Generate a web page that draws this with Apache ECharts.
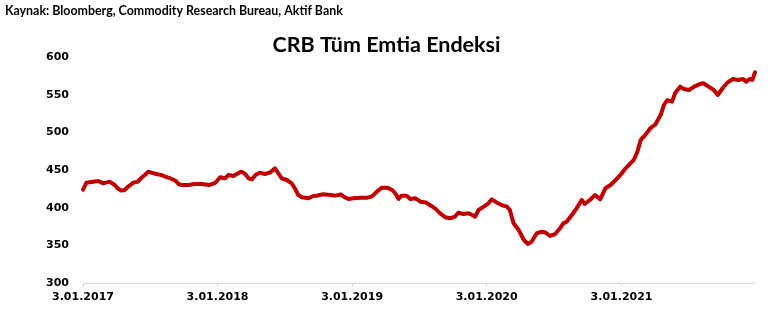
<!DOCTYPE html>
<html>
<head>
<meta charset="utf-8">
<title>CRB Tüm Emtia Endeksi</title>
<script src="https://cdn.jsdelivr.net/npm/echarts@6/dist/echarts.min.js"></script>
<style>
  html, body { margin: 0; padding: 0; background: #ffffff; }
  #chart { width: 773px; height: 330px; }
</style>
</head>
<body>
<div id="chart"></div>
<script>
// CRB all-commodity index, observation dates and index levels
const dates = [
  '2017-01-03','2017-01-12','2017-02-13','2017-02-27','2017-03-16','2017-03-30','2017-04-07','2017-04-17',
  '2017-04-26','2017-05-05','2017-05-19','2017-06-01','2017-06-09','2017-06-20','2017-06-29','2017-07-07',
  '2017-07-21','2017-08-04','2017-08-14','2017-08-28','2017-09-11','2017-09-19','2017-09-28','2017-10-16',
  '2017-11-03','2017-11-22','2017-12-11','2017-12-28',
  '2018-01-10','2018-01-24','2018-02-01','2018-02-15','2018-02-28','2018-03-09','2018-03-19','2018-03-28',
  '2018-04-06','2018-04-16','2018-04-27','2018-05-11','2018-05-25','2018-06-08','2018-06-18','2018-06-26',
  '2018-07-10','2018-07-23','2018-08-01','2018-08-10','2018-08-20','2018-09-06','2018-09-20','2018-09-28',
  '2018-10-17','2018-11-05','2018-11-19','2018-12-03','2018-12-11','2018-12-24',
  '2019-01-07','2019-01-25','2019-02-12','2019-02-25','2019-03-11','2019-03-25','2019-04-08','2019-04-22',
  '2019-04-30','2019-05-09','2019-05-17','2019-05-31','2019-06-10','2019-06-24','2019-07-08','2019-07-22',
  '2019-08-02','2019-08-16','2019-08-30','2019-09-13','2019-09-26','2019-10-09','2019-10-18','2019-11-01',
  '2019-11-15','2019-11-25','2019-12-03','2019-12-12','2019-12-26',
  '2020-01-08','2020-01-17','2020-01-31','2020-02-13','2020-02-27','2020-03-06','2020-03-16','2020-03-30',
  '2020-04-13','2020-04-24','2020-05-04','2020-05-18','2020-06-01','2020-06-09','2020-06-23','2020-07-07',
  '2020-07-20','2020-07-29','2020-08-07','2020-08-21','2020-09-03','2020-09-17','2020-09-25','2020-10-09',
  '2020-10-23','2020-11-06','2020-11-20','2020-12-04','2020-12-18','2020-12-31',
  '2021-01-14','2021-01-27','2021-02-05','2021-02-15','2021-02-24','2021-03-09','2021-03-23','2021-04-05',
  '2021-04-19','2021-04-28','2021-05-07','2021-05-20','2021-05-28','2021-06-11','2021-06-21','2021-07-05',
  '2021-07-19','2021-08-02','2021-08-13','2021-08-27','2021-09-10','2021-09-21','2021-10-04','2021-10-18',
  '2021-11-01','2021-11-15','2021-11-29','2021-12-07','2021-12-16','2021-12-24','2021-12-31'
];

const indexLevels = [
  424, 433, 435.4, 432.3, 434.5, 430.1, 425.7, 422.6,
  423.5, 427.8, 433, 434.5, 439, 443.4, 447.8, 446.5,
  444.7, 443.4, 441.2, 439, 435.8, 431.4, 430, 430,
  431.4, 431.4, 430, 433,
  440.3, 439, 443.4, 442, 445.6, 447.8, 444.7, 439,
  437.6, 443.4, 446.5, 444.7, 446.5, 452.3, 444.7, 439,
  436.7, 432.3, 425.7, 416.8, 413.7, 412.4, 415.5, 415.9,
  417.7, 416.8, 415.9, 417.7, 414.6, 411.5,
  412.4, 413.2, 413.2, 414.6, 421.2, 426.5, 426.5, 423.5,
  419.1, 411.5, 415.9, 415.9, 411.5, 412.4, 407.9, 407,
  403.5, 399.1, 392.5, 387.2, 385.9, 388, 393.3, 391.6,
  392.5, 390.3, 388, 396.9, 401.3,
  405.8, 411.1, 406.6, 403.5, 401.3, 396.9, 379.2, 370.4,
  357.1, 351.8, 354.8, 366, 368.1, 367.5, 362.4, 365,
  372.6, 379.2, 381.4, 390.3, 399.1, 410.2, 404.9, 410.2,
  416.8, 411.1, 425.7, 430.1, 436.7, 443.4,
  452.3, 458.9, 463.3, 474.3, 490, 497, 506, 510.7,
  523, 536.3, 542.9, 540.7, 551.8, 560.6, 557.5, 556.2,
  560.6, 563.8, 565.1, 560.6, 556.2, 549.6, 558.5, 566.4,
  570.8, 569.5, 570.8, 567.2, 570.8, 569.5, 579.7
];

// x-axis tick dates (first trading day of each year)
const tickDates = ['2017-01-03', '2018-01-03', '2019-01-03', '2020-01-03', '2021-01-03'];

// y-axis range
const yMin = 300;
const yMax = 600;
const yStep = 50;

const toTime = s => {
  const [y, m, d] = s.split('-').map(Number);
  return Date.UTC(y, m - 1, d);
};

const seriesData = dates.map((d, i) => [toTime(d), indexLevels[i]]);
const tickTimes = tickDates.map(toTime);

const chart = echarts.init(document.getElementById('chart'), null, { renderer: 'canvas' });

chart.setOption({
  backgroundColor: '#ffffff',
  animation: false,
  title: [
    {
      text: 'Kaynak: Bloomberg, Commodity Research Bureau, Aktif Bank',
      left: 5,
      top: 5,
      padding: 0,
      textStyle: { fontFamily: 'Lato', fontWeight: 'bold', fontSize: 12.4, color: '#000000' }
    },
    {
      text: 'CRB Tüm Emtia Endeksi',
      left: 'center',
      top: 34,
      padding: 0,
      textStyle: { fontFamily: 'Lato', fontWeight: 'bold', fontSize: 21.5, color: '#000000' }
    }
  ],
  grid: { left: 83, right: 18, top: 57, bottom: 47 },
  xAxis: {
    type: 'value',
    min: toTime(dates[0]),
    max: toTime(dates[dates.length - 1]),
    scale: true,
    splitLine: { show: false },
    axisLine: { show: true, lineStyle: { color: '#d9d9d9', width: 1 } },
    axisTick: {
      show: true,
      length: 4,
      customValues: tickTimes,
      lineStyle: { color: '#d9d9d9' }
    },
    axisLabel: {
      customValues: tickTimes,
      margin: 9,
      fontFamily: 'DejaVu Sans',
      fontWeight: 'bold',
      fontSize: 11,
      color: '#000000',
      formatter: v => {
        const d = new Date(v);
        return d.getUTCDate() + '.' + String(d.getUTCMonth() + 1).padStart(2, '0') + '.' + d.getUTCFullYear();
      }
    }
  },
  yAxis: {
    type: 'value',
    min: yMin,
    max: yMax,
    interval: yStep,
    splitLine: { show: false },
    axisLine: { show: false },
    axisTick: { show: false },
    axisLabel: {
      margin: 14,
      fontFamily: 'DejaVu Sans',
      fontWeight: 'bold',
      fontSize: 11,
      color: '#000000'
    }
  },
  series: [
    {
      type: 'line',
      data: seriesData,
      showSymbol: false,
      symbol: 'none',
      lineStyle: { color: '#c00000', width: 4, join: 'round', cap: 'round' },
      itemStyle: { color: '#c00000' }
    }
  ]
});
</script>
</body>
</html>
